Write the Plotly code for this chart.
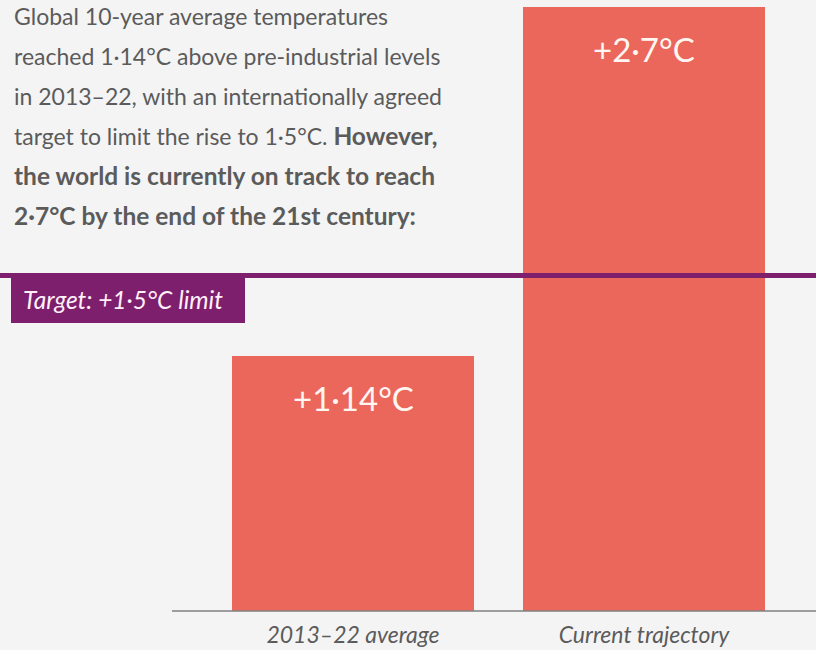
import plotly.graph_objects as go

categories = ["2013–22 average", "Current trajectory"]
values = [1.14, 2.7]
value_labels = ["+1·14°C", "+2·7°C"]
target_value = 1.5
target_label = "Target: +1·5°C limit"
B = '<b><span style="font-size:24.5px">'
E = "</span></b>"
intro_lines = [
    "Global 10-year average temperatures",
    "reached 1·14°C above pre-industrial levels",
    "in 2013–22, with an internationally agreed",
    "target to limit the rise to 1·5°C. " + B + "However," + E,
    B + "the world is currently on track to reach" + E,
    B + "2·7°C by the end of the 21st century:" + E,
]

W, H = 816, 650
BASE = 611  # pixel row of the baseline
FONT = "Lato"
BG = "#F4F4F4"
BAR = "#EB675B"
PURPLE = "#7D1F6C"
GREY = "#5B5B5B"

def py(p):
    return (BASE - p) / BASE

def px(p):
    return p / W

x_pos = list(range(len(categories)))

fig = go.Figure()
fig.add_trace(go.Bar(
    x=x_pos, y=values, width=0.832,
    marker=dict(color=BAR, line=dict(width=0)),
    hoverinfo="skip",
))

annotations = []
for i, ln in enumerate(intro_lines):
    annotations.append(dict(
        text=ln, xref="paper", yref="paper", x=px(12), y=py(16 + i * 39.8),
        xanchor="left", yanchor="middle", showarrow=False,
        font=dict(family=FONT, size=23, color=GREY),
    ))
for xi, v, lab in zip(x_pos, values, value_labels):
    annotations.append(dict(
        text=lab, xref="x", yref="y", x=xi, y=v, yshift=-42,
        xanchor="center", yanchor="middle", showarrow=False,
        font=dict(family=FONT, size=33, color="#FFF6F2"),
    ))
annotations.append(dict(
    text="<i>" + target_label + "</i>", xref="paper", yref="paper",
    x=px(21), y=py(299), xanchor="left", yanchor="middle", showarrow=False,
    font=dict(family=FONT, size=24.5, color="#FFF0FA"),
))

shapes = [
    dict(type="line", xref="paper", yref="paper", x0=px(172), x1=1, y0=0, y1=0,
         line=dict(color="#808080", width=1.5), layer="above"),
    dict(type="line", xref="paper", yref="y", x0=0, x1=1, y0=target_value, y1=target_value,
         line=dict(color=PURPLE, width=5), layer="above"),
    dict(type="rect", xref="paper", yref="paper", x0=px(11), x1=px(245), y0=py(323), y1=py(275),
         fillcolor=PURPLE, line=dict(width=0), layer="above"),
]

fig.update_layout(
    width=W, height=H,
    margin=dict(l=0, r=0, t=0, b=H - BASE, pad=0),
    paper_bgcolor=BG, plot_bgcolor=BG,
    showlegend=False,
    annotations=annotations,
    shapes=shapes,
    bargap=0,
    xaxis=dict(range=[-353 / 291, 1 + (W - 644) / 291], tickvals=x_pos,
               ticktext=["<i>" + c + "</i>" for c in categories],
               showgrid=False, zeroline=False, showline=False, ticks="",
               ticklabelstandoff=8,
               tickfont=dict(family=FONT, size=23, color=GREY), automargin=False),
    yaxis=dict(range=[0, BASE / 223.7], showgrid=False, zeroline=False,
               showticklabels=False, showline=False, ticks="", automargin=False),
)

fig.write_html(
    "out.html",
    config={"displayModeBar": False},
    post_script="document.body.style.margin='0';document.body.style.background='%s';" % BG,
)
